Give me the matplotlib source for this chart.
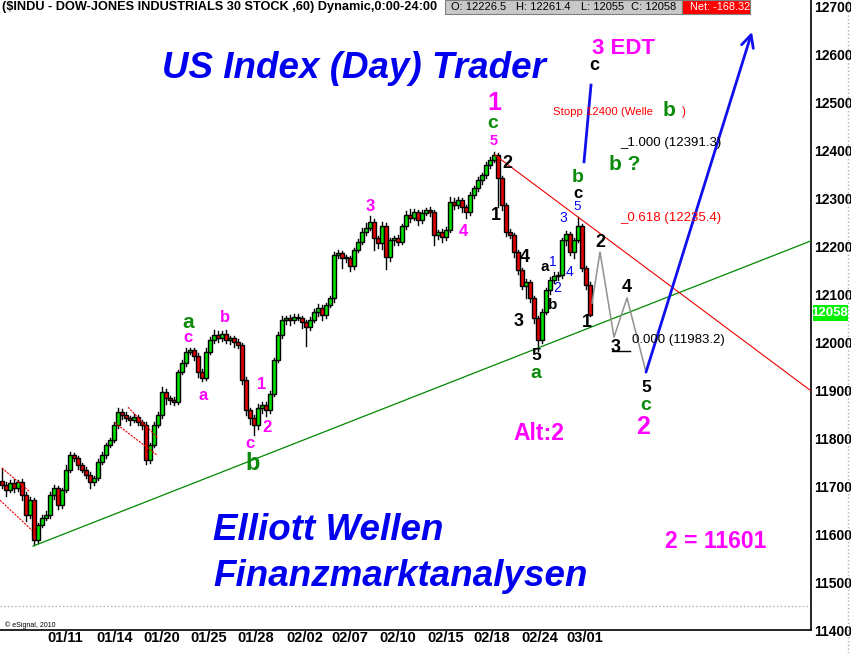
import matplotlib
matplotlib.use("Agg")
import matplotlib.pyplot as plt
from matplotlib.patches import Rectangle
from matplotlib.lines import Line2D

W, H = 851, 653

# hourly closes (one per bar)
closes = [
    11703, 11692, 11707, 11697, 11709, 11682, 11640, 11671, 11588, 11619,
    11633, 11640, 11682, 11697, 11661, 11692, 11734, 11765, 11759, 11744,
    11734, 11724, 11709, 11717, 11751, 11765, 11786, 11796, 11828, 11855,
    11849, 11842, 11838, 11844, 11834, 11828, 11755, 11786, 11828, 11849,
    11897, 11884, 11880, 11876, 11938, 11957, 11980, 11984, 11972, 11938,
    11926, 11980, 12005, 12015, 12009, 12017, 12005, 12009, 12001, 11995,
    11922, 11859, 11842, 11828, 11863, 11870, 11859, 11893, 11963, 12015,
    12047, 12051, 12047, 12053, 12051, 12043, 12032, 12047, 12064, 12072,
    12057, 12078, 12093, 12182, 12187, 12176, 12176, 12159, 12193, 12210,
    12230, 12239, 12251, 12218, 12207, 12243, 12178, 12214, 12218, 12210,
    12243, 12266, 12260, 12272, 12255, 12270, 12276, 12272, 12224, 12230,
    12220, 12235, 12293, 12287, 12297, 12283, 12272, 12308, 12322, 12339,
    12349, 12370, 12381, 12391, 12343, 12287, 12230, 12224, 12189, 12151,
    12118, 12126, 12093, 12051, 12005, 12064, 12109, 12130, 12138, 12140,
    12214, 12226, 12189, 12214, 12243, 12155, 12120, 12058]
first_open = 11710

# wick lengths above / below the body (points)
wick_up = [
    28, 6, 5, 8, 4, 6, 5, 6, 4, 5,
    6, 8, 5, 6, 4, 5, 10, 6, 5, 4,
    4, 6, 5, 4, 5, 6, 4, 5, 6, 8,
    6, 5, 4, 7, 5, 4, 5, 4, 5, 6,
    10, 5, 4, 6, 5, 6, 8, 5, 4, 5,
    6, 8, 6, 10, 8, 6, 9, 5, 4, 6,
    4, 5, 4, 6, 8, 5, 6, 5, 4, 6,
    8, 5, 6, 7, 6, 5, 4, 6, 5, 8,
    6, 5, 4, 6, 5, 4, 6, 5, 4, 6,
    8, 10, 12, 6, 5, 8, 6, 5, 4, 6,
    5, 8, 12, 6, 5, 7, 5, 6, 4, 5,
    6, 5, 10, 8, 6, 5, 4, 6, 5, 6,
    5, 6, 5, 7, 4, 5, 4, 6, 5, 4,
    5, 6, 5, 4, 5, 6, 5, 6, 8, 6,
    5, 6, 4, 5, 18, 4, 5, 6]
wick_dn = [
    6, 12, 5, 8, 6, 10, 12, 6, 11, 6,
    5, 4, 6, 8, 8, 6, 5, 4, 6, 8,
    5, 6, 12, 6, 5, 4, 6, 5, 4, 6,
    8, 6, 10, 5, 6, 8, 8, 6, 5, 4,
    6, 12, 8, 6, 5, 4, 6, 5, 8, 10,
    6, 5, 4, 6, 8, 5, 6, 8, 10, 6,
    8, 10, 12, 21, 8, 10, 12, 6, 5, 4,
    5, 8, 10, 6, 5, 12, 40, 6, 5, 8,
    10, 6, 5, 8, 6, 20, 8, 10, 6, 5,
    4, 6, 5, 25, 10, 12, 25, 8, 10, 6,
    5, 6, 8, 5, 10, 6, 5, 8, 20, 8,
    10, 6, 5, 8, 6, 10, 12, 5, 6, 5,
    8, 6, 5, 4, 60, 10, 8, 6, 10, 8,
    6, 25, 8, 10, 22, 6, 5, 8, 6, 8,
    5, 10, 6, 12, 5, 6, 8, 3]

date_labels = ["01/11", "01/14", "01/20", "01/25", "01/28", "02/02",
               "02/07", "02/10", "02/15", "02/18", "02/24", "03/01"]
date_bars = [15.75, 28.25, 40, 51.75, 63.5, 75.75, 87, 99, 111, 122.5, 134.5, 145.75]
price_ticks = list(range(11400, 12800, 100))

# drawn lines: (bar, price) pairs
support_x, support_y = [7.75, 202.25], [11575, 12212]
resist_x, resist_y = [123.25, 202.25], [12391, 11899]
channels = [([0, 7], [11738, 11688]), ([-0.5, 7.5], [11671, 11608]),
            ([31.5, 39], [11865, 11800]), ([28.25, 38.75], [11832, 11765])]
proj_x = [147.5, 149.5, 153, 156.25, 161]
proj_y = [12082, 12189, 12011, 12093, 11938]
arrow_from, arrow_to = (161, 11938), (187.5, 12648)
stub_x, stub_y = [145.5, 147.25], [12377, 12537]

GREEN = "#00dd00"
RED = "#e00000"
MAG = "#ff00ff"
DGREEN = "#0b8a0b"
BLUE = "#0000ee"
FONT = "Liberation Sans"
NARROW = ["Liberation Sans Narrow", "Liberation Sans"]

plt.rcParams["font.family"] = FONT
fig = plt.figure(figsize=(W / 100, H / 100), dpi=100)
ax = fig.add_axes([0, 1 - 630 / H, 811 / W, 630 / H])

opens = [first_open] + closes[:-1]
for i, (o, c, u, d) in enumerate(zip(opens, closes, wick_up, wick_dn)):
    top, bot = max(o, c), min(o, c)
    ax.plot([i, i], [bot - d, top + u], color="black", lw=1, zorder=2)
    col = GREEN if c >= o else RED
    ax.add_patch(Rectangle((i - 0.42, bot), 0.84, max(top - bot, 2),
                           facecolor=col, edgecolor="black", lw=1.0, zorder=3))

ax.plot(support_x, support_y, color="#008800", lw=0.9, zorder=4)
ax.plot(resist_x, resist_y, color="#ee0000", lw=0.8, zorder=4)
for cx, cy in channels:
    ax.plot(cx, cy, color="#ee0000", lw=0.8, ls=(0, (2, 1)), zorder=4)
ax.plot(proj_x, proj_y, color="#909090", lw=1.1, zorder=4)
ax.annotate("", xy=arrow_to, xytext=arrow_from,
            arrowprops=dict(arrowstyle="->", color="#1010ee", lw=2,
                            mutation_scale=22, shrinkA=0, shrinkB=0), zorder=5)
ax.plot(stub_x, stub_y, color="#1010ee", lw=2, zorder=5)
ax.plot([152.5, 157], [11983, 11983], color="black", lw=1, zorder=4)
ax.axhline(11450, color="#b0b0b0", lw=1, ls=":", zorder=1)

ax.set_xlim(-0.5, 202.25)
ax.set_ylim(11400, 12714.6)
ax.set_xticks(date_bars)
ax.set_xticklabels(date_labels, fontsize=10.5, fontweight="bold", family=NARROW)
ax.set_yticks(price_ticks)
ax.set_yticklabels([str(p) for p in price_ticks], fontsize=10, fontweight="bold")
ax.yaxis.tick_right()
ax.tick_params(axis="both", length=0)
ax.tick_params(axis="x", pad=1)
ax.tick_params(axis="y", pad=2)
for s in ["left", "top"]:
    ax.spines[s].set_visible(False)
for s in ["right", "bottom"]:
    ax.spines[s].set_linewidth(1.2)


def ptext(x, y, s, size, color="black", weight="bold", **kw):
    kw.setdefault("ha", "center")
    fig.text(x / W, 1 - y / H, s, fontsize=size, color=color,
             fontweight=weight, va="center", **kw)


# header
ptext(2, 7, "($INDU - DOW-JONES INDUSTRIALS 30 STOCK ,60) Dynamic,0:00-24:00",
      9.2, ha="left")
fig.patches.append(Rectangle((445 / W, 1 - 14 / H), 237 / W, 14 / H,
                             transform=fig.transFigure, facecolor="#c8c8c8",
                             edgecolor="#808080", lw=0.8))
fig.patches.append(Rectangle((682 / W, 1 - 14 / H), 68 / W, 14 / H,
                             transform=fig.transFigure, facecolor="#ff0000",
                             edgecolor="#808080", lw=0.8))
for x, s in [(451, "O: 12226.5"), (516, "H: 12261.4"), (581, "L: 12055"),
             (631, "C: 12058")]:
    ptext(x, 7, s, 8.0, weight="normal", ha="left")
ptext(690, 7, "Net: -168.32", 7.8, color="white", weight="normal", ha="left")

# price marker
fig.patches.append(Rectangle((813 / W, 1 - 321 / H), 35 / W, 16 / H,
                             transform=fig.transFigure, facecolor="#00ee00",
                             edgecolor="none"))
ptext(830, 313, "12058", 9.5, color="white")
fig.add_artist(Line2D([848 / W, 848 / W], [0, 1], color="#b0b0b0", lw=1, ls=":"))
ptext(5, 625, "\u00a9 eSignal, 2010", 5, weight="normal", ha="left")

# titles
ptext(354, 69, "US Index (Day) Trader", 26.5, color=BLUE, style="italic")
ptext(213, 531, "Elliott Wellen", 26.5, color=BLUE, style="italic", ha="left")
ptext(213, 576, "Finanzmarktanalysen", 26.5, color=BLUE, style="italic", ha="left")

# wave labels
ptext(623, 48, "3 EDT", 16, color=MAG)
ptext(594, 66, "c", 13)
ptext(494, 103, "1", 18, color=MAG)
ptext(493, 123, "c", 14, color=DGREEN)
ptext(494, 141, "5", 10.5, color=MAG)
ptext(507, 163, "2", 13)
ptext(496, 216, "1", 13)
ptext(525, 258, "4", 13)
ptext(519, 322, "3", 13)
ptext(536, 356, "5", 12.5)
ptext(536, 374, "a", 14, color=DGREEN)
ptext(545, 267, "a", 11)
ptext(553, 305, "b", 11)
ptext(553, 262, "1", 10, color=BLUE, weight="normal")
ptext(557, 288, "2", 10, color=BLUE, weight="normal")
ptext(563, 218, "3", 10, color=BLUE, weight="normal")
ptext(569, 272, "4", 10, color=BLUE, weight="normal")
ptext(577, 207, "5", 9.5, color=BLUE, weight="normal")
ptext(578, 193, "c", 12)
ptext(578, 177, "b", 14, color=DGREEN)
ptext(600, 242, "2", 13)
ptext(627, 287, "4", 13)
ptext(587, 323, "1", 13)
ptext(616, 348, "3", 13)
ptext(625, 165, "b ?", 15, color=DGREEN)
ptext(553, 112, "Stopp 12400 (Welle", 8.2, color="#ff0000", weight="normal", ha="left")
ptext(669, 110, "b", 15, color=DGREEN)
ptext(684, 112, ")", 8.5, color="#ff0000", weight="normal")
ptext(646, 387, "5", 12.5)
ptext(646, 405, "c", 14, color=DGREEN)
ptext(643, 427, "2", 18, color=MAG)
ptext(539, 433, "Alt:2", 16.5, color=MAG)
ptext(716, 541, "2 = 11601", 16.5, color=MAG)
ptext(370, 207, "3", 12, color=MAG)
ptext(463, 231, "4", 12, color=MAG)
ptext(188, 322, "a", 15, color=DGREEN)
ptext(188, 338, "c", 12, color=MAG)
ptext(225, 318, "b", 12, color=MAG)
ptext(203, 395, "a", 12, color=MAG)
ptext(250, 443, "c", 12, color=MAG)
ptext(253, 463, "b", 17, color=DGREEN)
ptext(262, 385, "1", 12, color=MAG)
ptext(267, 427, "2", 12, color=MAG)

# fibonacci levels
ptext(620, 143, "_1.000 (12391.3)", 9.5, weight="normal", ha="left", family=NARROW)
ptext(620, 218, "_0.618 (12235.4)", 9.5, color="#ff0000", weight="normal",
      ha="left", family=NARROW)
ptext(632, 340, "0.000 (11983.2)", 9.5, weight="normal", ha="left", family=NARROW)

fig.savefig("out.png", dpi=100, facecolor="white")
